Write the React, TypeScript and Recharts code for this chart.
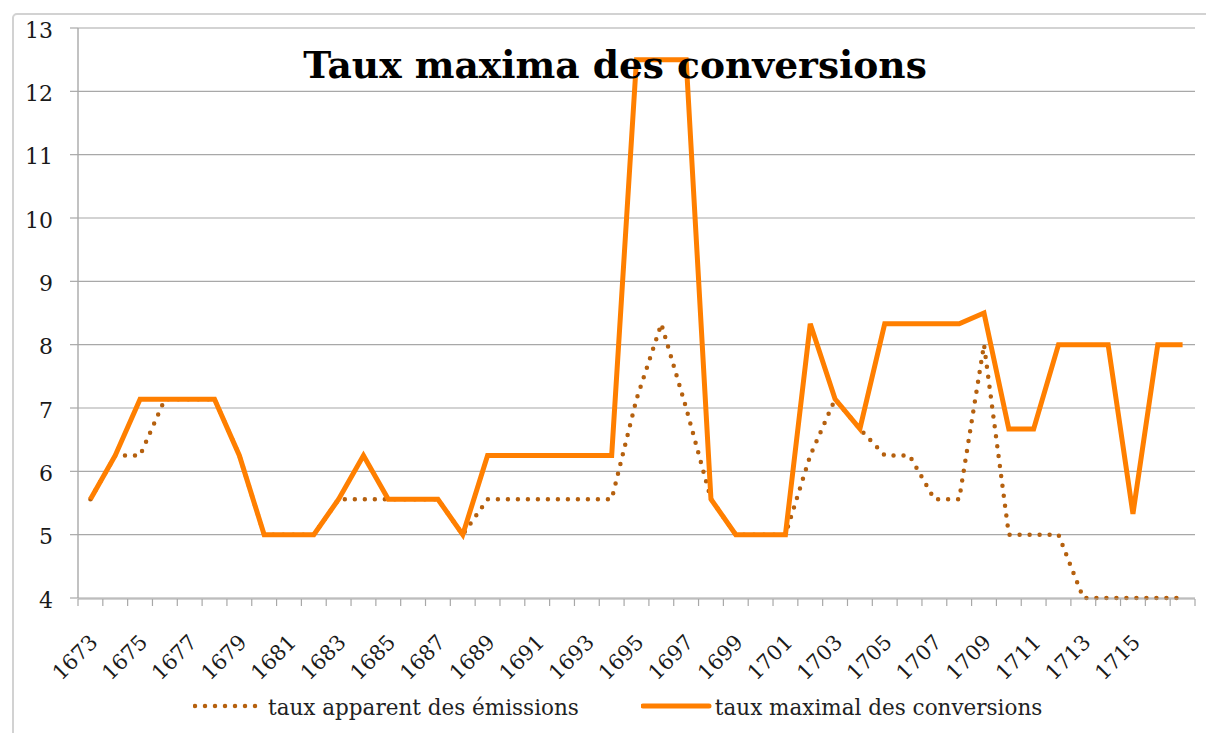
import React from 'react';
import { LineChart, Line, XAxis, YAxis, CartesianGrid, Legend } from 'recharts';

const years = [
  1673, 1674, 1675, 1676, 1677, 1678, 1679, 1680, 1681, 1682,
  1683, 1684, 1685, 1686, 1687, 1688, 1689, 1690, 1691, 1692,
  1693, 1694, 1695, 1696, 1697, 1698, 1699, 1700, 1701, 1702,
  1703, 1704, 1705, 1706, 1707, 1708, 1709, 1710, 1711, 1712,
  1713, 1714, 1715, 1716, 1717,
];

const tauxApparent = [
  5.56, 6.25, 6.25, 7.14, 7.14, 7.14, 6.25, 5, 5, 5,
  5.56, 5.56, 5.56, 5.56, 5.56, 5, 5.56, 5.56, 5.56, 5.56,
  5.56, 5.56, 7.14, 8.33, 7.0, 5.56, 5, 5, 5, 6.25,
  7.14, 6.67, 6.25, 6.25, 5.56, 5.56, 8, 5, 5, 5,
  4, 4, 4, 4, 4,
];

const tauxMaximal = [
  5.56, 6.25, 7.14, 7.14, 7.14, 7.14, 6.25, 5, 5, 5,
  5.56, 6.25, 5.56, 5.56, 5.56, 5, 6.25, 6.25, 6.25, 6.25,
  6.25, 6.25, 12.5, 12.5, 12.5, 5.56, 5, 5, 5, 8.33,
  7.14, 6.67, 8.33, 8.33, 8.33, 8.33, 8.5, 6.67, 6.67, 8,
  8, 8, 5.33, 8, 8,
];

const xTickLabels = [
  1673, 1675, 1677, 1679, 1681, 1683, 1685, 1687, 1689, 1691, 1693,
  1695, 1697, 1699, 1701, 1703, 1705, 1707, 1709, 1711, 1713, 1715,
];

const yTicks = [4, 5, 6, 7, 8, 9, 10, 11, 12, 13];

const title = 'Taux maxima des conversions';
const nameApparent = 'taux apparent des émissions';
const nameMaximal = 'taux maximal des conversions';

const COLOR_APPARENT = '#B5600E';
const COLOR_MAXIMAL = '#FF7F00';
const GRID = '#A8A8A8';
const FONT = '"DejaVu Serif", serif';

const data = years.map((year, i) => ({
  year,
  apparent: tauxApparent[i],
  maximal: tauxMaximal[i],
}));

const boundaries = [...years.map((y) => y - 0.5), years[years.length - 1] + 0.5];
const xDomain = [boundaries[0], boundaries[boundaries.length - 1]];

const LegendContent = () => (
  <div style={{ display: 'flex', alignItems: 'flex-start', fontFamily: FONT, fontSize: 21.5, color: '#222', lineHeight: '24px', whiteSpace: 'nowrap' }}>
    <svg width={72} height={24} style={{ display: 'block' }}>
      <line x1={2} y1={10} x2={70} y2={10} stroke={COLOR_APPARENT} strokeWidth={4.5} strokeDasharray="0 10" strokeLinecap="round" />
    </svg>
    <span style={{ marginLeft: 3 }}>{nameApparent}</span>
    <svg width={72} height={24} style={{ display: 'block', marginLeft: 62 }}>
      <line x1={2} y1={10} x2={68} y2={10} stroke={COLOR_MAXIMAL} strokeWidth={5} strokeLinecap="round" />
    </svg>
    <span style={{ marginLeft: 2 }}>{nameMaximal}</span>
  </div>
);

const EmptyTick = () => <g />;

export default function App() {
  return (
    <div style={{ position: 'fixed', left: 0, top: 0, width: 1206, height: 733, overflow: 'hidden', background: '#fff' }}>
      <div style={{ position: 'absolute', left: 12, top: 13, width: 1300, height: 800, border: '2px solid #d2d2d2', borderRadius: 5, boxSizing: 'border-box' }} />
      <div style={{ position: 'absolute', left: 0, top: 0 }}>
        <LineChart width={1206} height={733} data={data} margin={{ top: 28, right: 11, bottom: 133, left: 0 }}>
          <CartesianGrid horizontal vertical={false} stroke={GRID} strokeWidth={1.2} xAxisId="marks" />
          <XAxis
            xAxisId="marks"
            dataKey="year"
            type="number"
            domain={xDomain}
            ticks={boundaries}
            interval={0}
            tick={EmptyTick}
            tickSize={7}
            height={1}
            axisLine={{ stroke: GRID, strokeWidth: 1.2 }}
            tickLine={{ stroke: GRID, strokeWidth: 1.2 }}
            allowDataOverflow
          />
          <XAxis
            xAxisId="labels"
            dataKey="year"
            type="number"
            domain={xDomain}
            ticks={xTickLabels}
            interval={0}
            height={1}
            axisLine={false}
            tickLine={false}
            tickSize={6}
            tickMargin={29}
            angle={-45}
            textAnchor="end"
            tick={{ fontFamily: FONT, fontSize: 21, fill: '#1a1a1a', textAnchor: 'end', angle: -45, dx: -2 }}
            allowDataOverflow
          />
          <YAxis
            domain={[4, 13]}
            ticks={yTicks}
            interval={0}
            width={78}
            tickSize={8}
            tickMargin={17}
            axisLine={{ stroke: GRID, strokeWidth: 1.4 }}
            tickLine={{ stroke: GRID, strokeWidth: 1.2 }}
            tick={{ fontFamily: FONT, fontSize: 22, fill: '#1a1a1a', dy: 2 }}
          />
          <Legend
            layout="horizontal"
            verticalAlign="middle"
            align="center"
            content={<LegendContent />}
            wrapperStyle={{ left: 193, top: 696, width: 'auto' }}
          />
          <Line
            xAxisId="labels"
            type="linear"
            dataKey="apparent"
            name={nameApparent}
            stroke={COLOR_APPARENT}
            strokeWidth={4.5}
            strokeDasharray="0 10"
            strokeLinecap="round"
            dot={false}
            activeDot={false}
            isAnimationActive={false}
          />
          <Line
            xAxisId="labels"
            type="linear"
            dataKey="maximal"
            name={nameMaximal}
            stroke={COLOR_MAXIMAL}
            strokeWidth={5}
            dot={false}
            activeDot={false}
            isAnimationActive={false}
          />
        </LineChart>
      </div>
      <div style={{ position: 'absolute', left: 0, width: 1230, top: 47, textAlign: 'center', fontFamily: FONT, fontWeight: 'bold', fontSize: 37.6, lineHeight: 1, color: '#000', whiteSpace: 'nowrap' }}>
        {title}
      </div>
    </div>
  );
}
